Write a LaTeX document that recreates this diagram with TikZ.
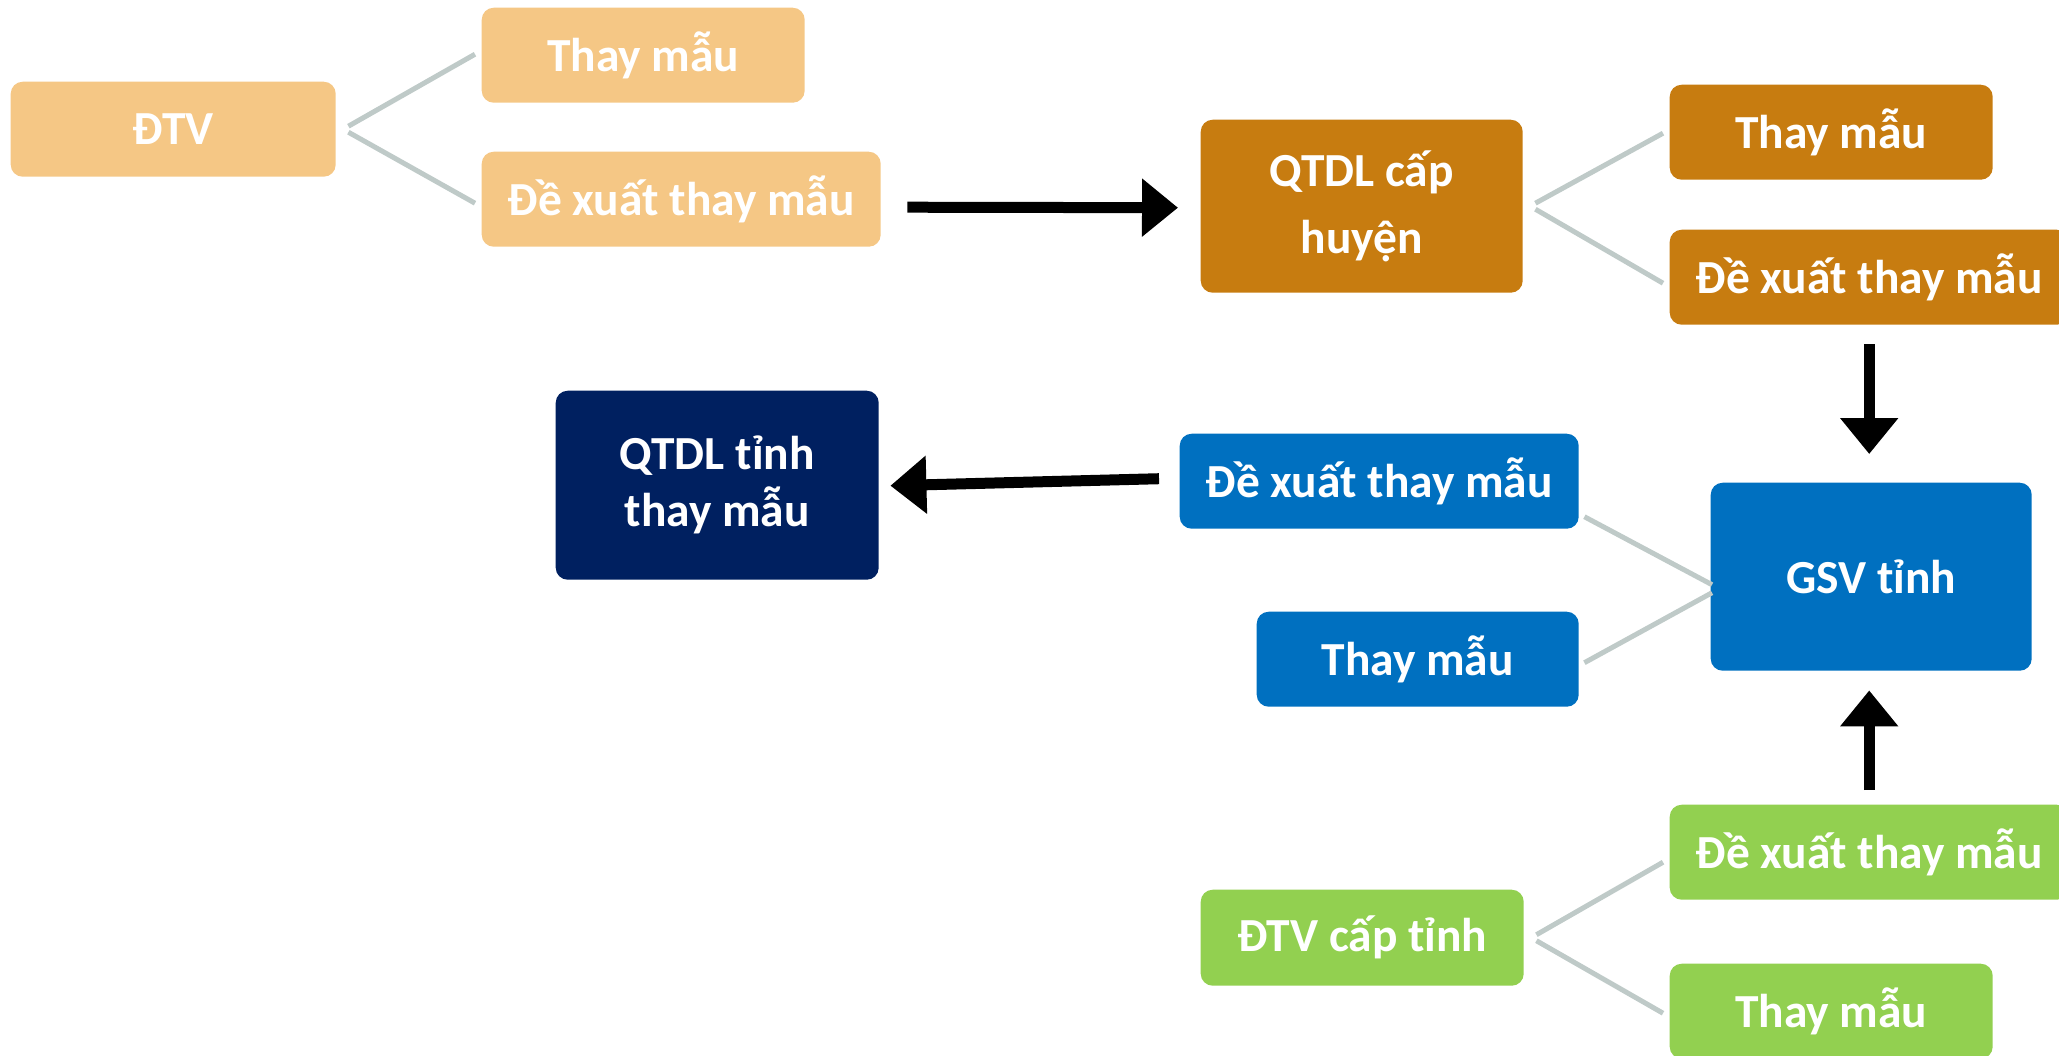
\documentclass[tikz,border=0pt]{standalone}
\usepackage{fontspec}
\setmainfont{Carlito}
\usetikzlibrary{calc,arrows.meta}
\definecolor{cam}{HTML}{F5C785}
\definecolor{camdam}{HTML}{C77C10}
\definecolor{navy}{HTML}{002060}
\definecolor{xanh}{HTML}{0070C0}
\definecolor{la}{HTML}{92D050}
\definecolor{noi}{HTML}{BFCAC8}
\tikzset{
  box/.style={rounded corners=1.2mm, text=white, align=center, inner sep=0pt,
    anchor=north west, font=\fontsize{13.5}{19}\selectfont\bfseries},
  hop/.style={box, minimum width=32.3mm, minimum height=9.5mm},
  hopdai/.style={box, minimum width=39.9mm, minimum height=9.5mm},
  nhanh/.style={draw=noi, line width=0.5mm},
  muiten/.style={line width=1.1mm, -{Triangle[length=3.6mm,width=5.6mm]}},
}
\begin{document}
\begin{tikzpicture}[x=0.1mm, y=-0.1mm]
  \useasboundingbox (0,0) rectangle (2059,1055);

  % DTV
  \node[hop, fill=cam, minimum width=32.5mm] (dtv) at (10,81) {ĐTV};
  \node[hop, fill=cam] (dtvA) at (481,7) {Thay mẫu};
  \node[hopdai, fill=cam] (dtvB) at (481,151) {Đề xuất thay mẫu};
  \draw[nhanh] ($(dtv.east)+(12,-3)$) -- ($(dtvA.west)+(-6,-1)$);
  \draw[nhanh] ($(dtv.east)+(12,3)$) -- ($(dtvB.west)+(-6,4)$);

  % QTDL cap huyen
  \node[box, fill=camdam, minimum width=32.2mm, minimum height=17.3mm] (huyen) at (1200,119) {QTDL cấp\\huyện};
  \node[hop, fill=camdam] (huyenA) at (1669,84) {Thay mẫu};
  \node[hopdai, fill=camdam] (huyenB) at (1669,229) {Đề xuất thay mẫu};
  \draw[nhanh] ($(huyen.east)+(12,-3)$) -- ($(huyenA.west)+(-6,1)$);
  \draw[nhanh] ($(huyen.east)+(12,3)$) -- ($(huyenB.west)+(-6,6)$);

  % QTDL tinh
  \node[box, fill=navy, minimum width=32.3mm, minimum height=18.9mm,
    font=\fontsize{13.5}{16.2}\selectfont\bfseries] (tinh) at (555,390) {QTDL tỉnh\\thay mẫu};

  % GSV tinh
  \node[box, fill=xanh, minimum width=32.1mm, minimum height=18.8mm] (gsv) at (1710,482) {GSV tỉnh};
  \node[hopdai, fill=xanh] (gsvB) at (1179,433) {Đề xuất thay mẫu};
  \node[hop, fill=xanh, minimum width=32.2mm] (gsvA) at (1256,611) {Thay mẫu};
  \draw[nhanh] ($(gsvB.east)+(5,35.5)$) -- ($(gsv.west)+(2,8)$);
  \draw[nhanh] ($(gsvA.east)+(5,3.5)$) -- ($(gsv.west)+(2,16)$);

  % DTV cap tinh
  \node[hop, fill=la, minimum height=9.6mm] (tdtv) at (1200,889) {ĐTV cấp tỉnh};
  \node[hopdai, fill=la] (tdtvB) at (1669,804) {Đề xuất thay mẫu};
  \node[hop, fill=la] (tdtvA) at (1669,963) {Thay mẫu};
  \draw[nhanh] ($(tdtv.east)+(12,-3)$) -- ($(tdtvB.west)+(-6,10)$);
  \draw[nhanh] ($(tdtv.east)+(12,3)$) -- ($(tdtvA.west)+(-6,2)$);

  % luong de xuat
  \draw[muiten] ($(dtvB.east)+(26,8)$) -- ($(huyen.west)+(-22,1.5)$);
  \draw[muiten] ($(huyenB.south)+(0,19)$) -- ($(huyenB.south |- gsv.north)+(0,-28)$);
  \draw[muiten] ($(tdtvB.north)+(0,-14)$) -- ($(tdtvB.north |- gsv.south)+(0,19)$);
  \draw[muiten] ($(gsvB.west)+(-20,-2.5)$) -- ($(tinh.east)+(11,0.5)$);
\end{tikzpicture}
\end{document}
